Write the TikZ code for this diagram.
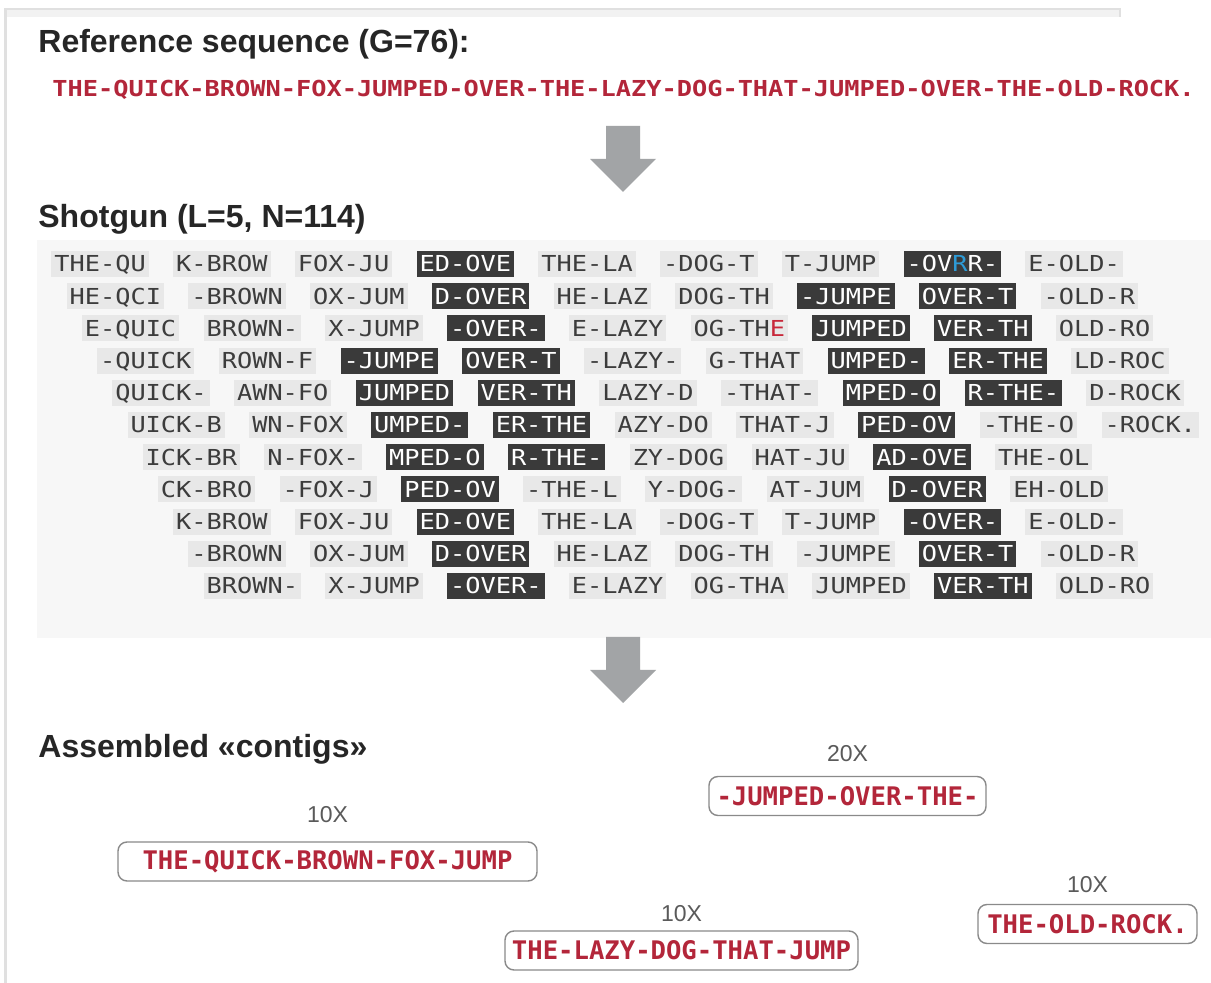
\documentclass[tikz,border=0pt]{standalone}
\usepackage{fontspec}
\setmainfont{Liberation Sans}
\newfontfamily\readfont[FakeStretch=1.15]{DejaVu Sans Mono}
\newfontfamily\contigfont{DejaVu Sans Mono}
\usepackage{tikz}
\usetikzlibrary{positioning}

\definecolor{seqred}{HTML}{B3263A}
\definecolor{errblue}{HTML}{2E9BD6}
\definecolor{errred}{HTML}{C8283A}
\definecolor{fraglight}{HTML}{E8E8E8}
\definecolor{fragdark}{HTML}{3A3A3A}
\definecolor{fragtext}{HTML}{3C3C3C}
\definecolor{panelgray}{HTML}{F7F7F7}
\definecolor{arrowgray}{HTML}{A2A4A6}
\definecolor{framegray}{HTML}{E0E0E0}
\definecolor{bandgray}{HTML}{F2F2F2}
\definecolor{boxline}{HTML}{8A8A8A}
\definecolor{covgray}{HTML}{5A5A5A}

\tikzset{
  heading/.style={anchor=base west, inner sep=0pt, text=black!85, font=\bfseries\fontsize{16}{18}\selectfont},
  refseq/.style={anchor=west, inner sep=0pt, text=seqred, font=\readfont\bfseries\fontsize{11}{13}\selectfont},
  frag/.style={anchor=west, fill=fraglight, text=fragtext, inner xsep=1.5pt, inner ysep=0pt,
    minimum height=13pt, text height=8pt, text depth=0pt, font=\readfont\fontsize{11}{13}\selectfont},
  fragdk/.style={frag, fill=fragdark, text=white},
  contig/.style={draw=boxline, line width=0.7pt, rounded corners=4.5pt, fill=white, text=seqred,
    inner sep=2pt, minimum height=19.5pt, font=\contigfont\bfseries\fontsize{12.8}{15}\selectfont},
  cover/.style={text=covgray, font=\fontsize{11.5}{13}\selectfont},
}

\begin{document}
\begin{tikzpicture}[x=0.5pt, y=-0.5pt]
\useasboundingbox (0,0) rectangle (1211,983);
\fill[white] (0,0) rectangle (1211,983);
% window frame
\fill[framegray] (4,8) rectangle (1121,10);
\fill[bandgray] (7,10) rectangle (1119,17);
\fill[framegray] (1119,10) rectangle (1121,17);
\fill[framegray] (4,10) rectangle (7,983);

% Reference sequence
\node[heading] (refhead) at (38,53) {Reference sequence (G=76):};
\node[refseq] (refseq) at (52,90) {THE-QUICK-BROWN-FOX-JUMPED-OVER-THE-LAZY-DOG-THAT-JUMPED-OVER-THE-OLD-ROCK.};
\fill[arrowgray] (606,126) -- (640,126) -- (640,159) -- (656,159) -- (623,192) -- (590,159) -- (606,159) -- cycle;

% Shotgun reads, one row per start offset
\node[heading] (shothead) at (38,228) {Shotgun (L=5, N=114)};
\fill[panelgray] (37,240) rectangle (1211,638);
\begin{scope}[shift={(51,264)}, x=7.61pt, y=-16.1pt]
\node[frag]   (s0a) at (0,0)  {THE-QU};
\node[frag]   (s0b) at (8,0)  {K-BROW};
\node[frag]   (s0c) at (16,0) {FOX-JU};
\node[fragdk] (s0d) at (24,0) {ED-OVE};
\node[frag]   (s0e) at (32,0) {THE-LA};
\node[frag]   (s0f) at (40,0) {-DOG-T};
\node[frag]   (s0g) at (48,0) {T-JUMP};
\node[fragdk] (s0h) at (56,0) {-OV\textcolor{errblue}{R}R-};
\node[frag]   (s0i) at (64,0) {E-OLD-};

\node[frag]   (s1a) at (1,1)  {HE-QCI};
\node[frag]   (s1b) at (9,1)  {-BROWN};
\node[frag]   (s1c) at (17,1) {OX-JUM};
\node[fragdk] (s1d) at (25,1) {D-OVER};
\node[frag]   (s1e) at (33,1) {HE-LAZ};
\node[frag]   (s1f) at (41,1) {DOG-TH};
\node[fragdk] (s1g) at (49,1) {-JUMPE};
\node[fragdk] (s1h) at (57,1) {OVER-T};
\node[frag]   (s1i) at (65,1) {-OLD-R};

\node[frag]   (s2a) at (2,2)  {E-QUIC};
\node[frag]   (s2b) at (10,2) {BROWN-};
\node[frag]   (s2c) at (18,2) {X-JUMP};
\node[fragdk] (s2d) at (26,2) {-OVER-};
\node[frag]   (s2e) at (34,2) {E-LAZY};
\node[frag]   (s2f) at (42,2) {OG-TH\textcolor{errred}{E}};
\node[fragdk] (s2g) at (50,2) {JUMPED};
\node[fragdk] (s2h) at (58,2) {VER-TH};
\node[frag]   (s2i) at (66,2) {OLD-RO};

\node[frag]   (s3a) at (3,3)  {-QUICK};
\node[frag]   (s3b) at (11,3) {ROWN-F};
\node[fragdk] (s3c) at (19,3) {-JUMPE};
\node[fragdk] (s3d) at (27,3) {OVER-T};
\node[frag]   (s3e) at (35,3) {-LAZY-};
\node[frag]   (s3f) at (43,3) {G-THAT};
\node[fragdk] (s3g) at (51,3) {UMPED-};
\node[fragdk] (s3h) at (59,3) {ER-THE};
\node[frag]   (s3i) at (67,3) {LD-ROC};

\node[frag]   (s4a) at (4,4)  {QUICK-};
\node[frag]   (s4b) at (12,4) {AWN-FO};
\node[fragdk] (s4c) at (20,4) {JUMPED};
\node[fragdk] (s4d) at (28,4) {VER-TH};
\node[frag]   (s4e) at (36,4) {LAZY-D};
\node[frag]   (s4f) at (44,4) {-THAT-};
\node[fragdk] (s4g) at (52,4) {MPED-O};
\node[fragdk] (s4h) at (60,4) {R-THE-};
\node[frag]   (s4i) at (68,4) {D-ROCK};

\node[frag]   (s5a) at (5,5)  {UICK-B};
\node[frag]   (s5b) at (13,5) {WN-FOX};
\node[fragdk] (s5c) at (21,5) {UMPED-};
\node[fragdk] (s5d) at (29,5) {ER-THE};
\node[frag]   (s5e) at (37,5) {AZY-DO};
\node[frag]   (s5f) at (45,5) {THAT-J};
\node[fragdk] (s5g) at (53,5) {PED-OV};
\node[frag]   (s5h) at (61,5) {-THE-O};
\node[frag]   (s5i) at (69,5) {-ROCK.};

\node[frag]   (s6a) at (6,6)  {ICK-BR};
\node[frag]   (s6b) at (14,6) {N-FOX-};
\node[fragdk] (s6c) at (22,6) {MPED-O};
\node[fragdk] (s6d) at (30,6) {R-THE-};
\node[frag]   (s6e) at (38,6) {ZY-DOG};
\node[frag]   (s6f) at (46,6) {HAT-JU};
\node[fragdk] (s6g) at (54,6) {AD-OVE};
\node[frag]   (s6h) at (62,6) {THE-OL};

\node[frag]   (s7a) at (7,7)  {CK-BRO};
\node[frag]   (s7b) at (15,7) {-FOX-J};
\node[fragdk] (s7c) at (23,7) {PED-OV};
\node[frag]   (s7d) at (31,7) {-THE-L};
\node[frag]   (s7e) at (39,7) {Y-DOG-};
\node[frag]   (s7f) at (47,7) {AT-JUM};
\node[fragdk] (s7g) at (55,7) {D-OVER};
\node[frag]   (s7h) at (63,7) {EH-OLD};

\node[frag]   (s8a) at (8,8)  {K-BROW};
\node[frag]   (s8b) at (16,8) {FOX-JU};
\node[fragdk] (s8c) at (24,8) {ED-OVE};
\node[frag]   (s8d) at (32,8) {THE-LA};
\node[frag]   (s8e) at (40,8) {-DOG-T};
\node[frag]   (s8f) at (48,8) {T-JUMP};
\node[fragdk] (s8g) at (56,8) {-OVER-};
\node[frag]   (s8h) at (64,8) {E-OLD-};

\node[frag]   (s9a) at (9,9)  {-BROWN};
\node[frag]   (s9b) at (17,9) {OX-JUM};
\node[fragdk] (s9c) at (25,9) {D-OVER};
\node[frag]   (s9d) at (33,9) {HE-LAZ};
\node[frag]   (s9e) at (41,9) {DOG-TH};
\node[frag]   (s9f) at (49,9) {-JUMPE};
\node[fragdk] (s9g) at (57,9) {OVER-T};
\node[frag]   (s9h) at (65,9) {-OLD-R};

\node[frag]   (s10a) at (10,10) {BROWN-};
\node[frag]   (s10b) at (18,10) {X-JUMP};
\node[fragdk] (s10c) at (26,10) {-OVER-};
\node[frag]   (s10d) at (34,10) {E-LAZY};
\node[frag]   (s10e) at (42,10) {OG-THA};
\node[frag]   (s10f) at (50,10) {JUMPED};
\node[fragdk] (s10g) at (58,10) {VER-TH};
\node[frag]   (s10h) at (66,10) {OLD-RO};
\end{scope}
\fill[arrowgray] (606,637) -- (640,637) -- (640,670) -- (656,670) -- (623,703) -- (590,670) -- (606,670) -- cycle;

% Assembled contigs with coverage
\node[heading] (asmhead) at (38,758) {Assembled «contigs»};
\node[contig, minimum width=209.5pt] (c1) at (327.5,861.5) {THE-QUICK-BROWN-FOX-JUMP};
\node[contig, minimum width=138.5pt] (c2) at (847.5,796) {-JUMPED-OVER-THE-};
\node[contig, minimum width=176.5pt] (c3) at (681.5,950.5) {THE-LAZY-DOG-THAT-JUMP};
\node[contig, minimum width=109.5pt] (c4) at (1087.5,924) {THE-OLD-ROCK.};
\node[cover, above=6pt of c1] (c1cov) {10X};
\node[cover, above=3.7pt of c2] (c2cov) {20X};
\node[cover, above=0.7pt of c3] (c3cov) {10X};
\node[cover, above=2.2pt of c4] (c4cov) {10X};
\end{tikzpicture}
\end{document}
